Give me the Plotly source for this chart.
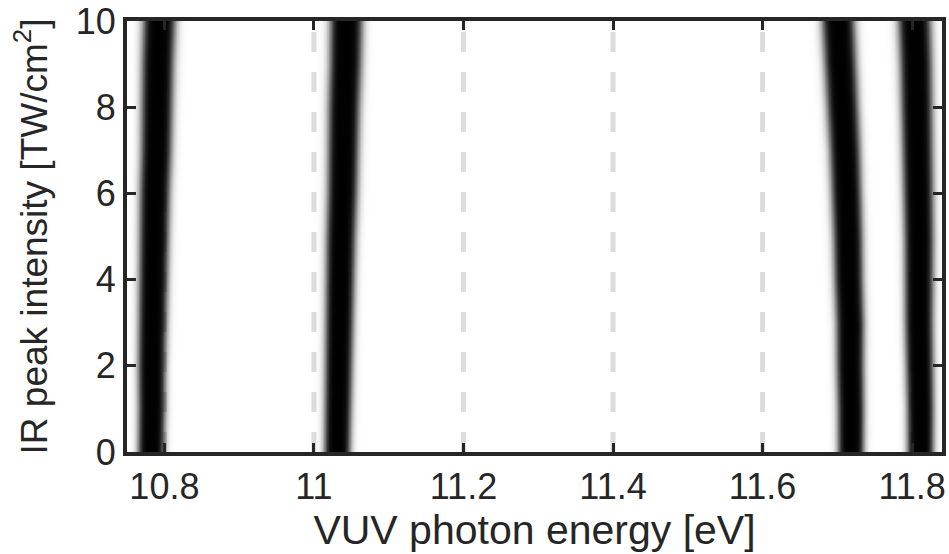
import numpy as np
import plotly.graph_objects as go

# IR peak intensity levels [TW/cm^2]
intensity = [0, 1, 2, 3, 4, 5, 6, 7, 8, 9, 10]

# Line centres [eV] read at each intensity level
line1_center = [10.782, 10.783, 10.783, 10.784, 10.785, 10.786, 10.787, 10.789, 10.790, 10.791, 10.793]
line2_center = [11.031, 11.032, 11.033, 11.034, 11.035, 11.036, 11.038, 11.039, 11.040, 11.042, 11.043]
line3_center = [11.718, 11.718, 11.717, 11.717, 11.715, 11.714, 11.712, 11.710, 11.707, 11.704, 11.701]
line4_center = [11.811, 11.811, 11.810, 11.809, 11.809, 11.809, 11.808, 11.807, 11.806, 11.805, 11.803]

# Line width (gaussian sigma, eV) at each intensity level
line_sigma = [0.0080, 0.0082, 0.0084, 0.0086, 0.0088, 0.0090, 0.0092, 0.0094, 0.0096, 0.0098, 0.0100]
optical_depth = 6.0

# Energy axis sampling
energy = np.arange(10.745, 11.846, 0.0005)

# Dashed reference lines and ticks
ref_lines = [10.8, 11.0, 11.2, 11.4, 11.6, 11.8]
x_tickvals = [10.8, 11.0, 11.2, 11.4, 11.6, 11.8]
x_ticktext = ["10.8", "11", "11.2", "11.4", "11.6", "11.8"]
y_tickvals = [0, 2, 4, 6, 8, 10]

centers = np.array([line1_center, line2_center, line3_center, line4_center])
z = []
for i in range(len(intensity)):
    od = np.zeros_like(energy)
    for c in centers[:, i]:
        od += np.exp(-((energy - c) ** 2) / (2 * line_sigma[i] ** 2))
    z.append(1 - np.exp(-optical_depth * od))
z = np.array(z)

ink = "#262626"
font_family = "Liberation Sans, Arial, sans-serif"

fig = go.Figure()
fig.add_trace(go.Heatmap(
    x=energy, y=intensity, z=z,
    zmin=0, zmax=1, zsmooth="best",
    colorscale=[[0, "rgba(0,0,0,0)"], [1, "rgba(0,0,0,1)"]],
    showscale=False, hoverinfo="skip",
))

for v in ref_lines:
    fig.add_shape(type="line", xref="x", yref="y", x0=v, x1=v, y0=0, y1=10,
                  line=dict(color="#dcdcdc", width=5, dash="20px,20px"), layer="below")

axis_common = dict(
    showline=True, linewidth=4, linecolor=ink, mirror="ticks",
    ticks="inside", ticklen=9, tickwidth=3, tickcolor=ink,
    showgrid=False, zeroline=False, automargin=False,
    tickfont=dict(family=font_family, size=36, color=ink),
)

fig.update_layout(
    width=949, height=554,
    margin=dict(l=127, r=7, t=21, b=102),
    plot_bgcolor="white", paper_bgcolor="white",
    font=dict(family=font_family, color=ink),
    xaxis=dict(range=[10.75, 11.84], tickvals=x_tickvals, ticktext=x_ticktext,
               title=dict(text="VUV photon energy [eV]", font=dict(size=41, family=font_family, color=ink), standoff=6),
               **axis_common),
    yaxis=dict(range=[0, 10], tickvals=y_tickvals,
               title=dict(text="IR peak intensity [TW/cm<sup>2</sup>]", font=dict(size=37, family=font_family, color=ink), standoff=18),
               **axis_common),
)

fig.write_html("out.html")
